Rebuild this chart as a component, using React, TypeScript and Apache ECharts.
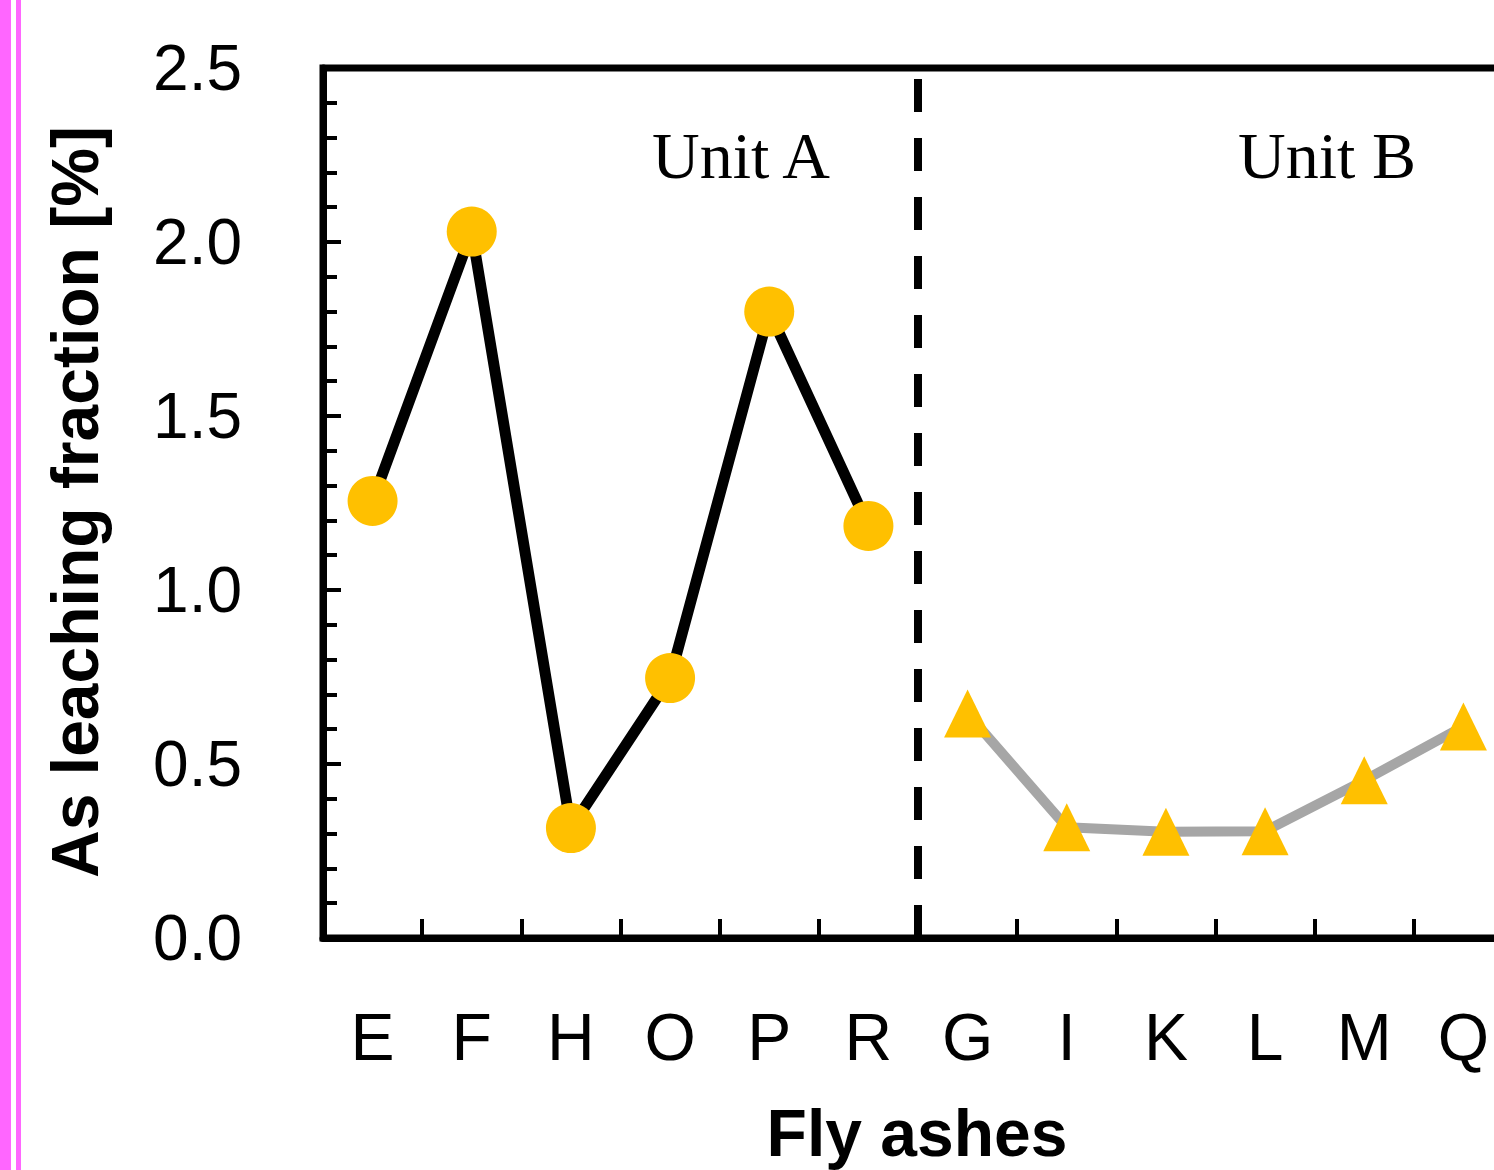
import React, { useEffect, useRef } from "react";
import * as echarts from "echarts";

const categories = ["E", "F", "H", "O", "P", "R", "G", "I", "K", "L", "M", "Q"];
const unitAValues = [1.256, 2.03, 0.316, 0.747, 1.8, 1.184, null, null, null, null, null, null];
const unitBValues = [null, null, null, null, null, null, 0.645, 0.318, 0.305, 0.307, 0.453, 0.608];
const yTickValues = [0, 0.5, 1.0, 1.5, 2.0, 2.5];
const dividerPosition = [6];
const unitLabels = ["Unit A", "Unit B"];

const SANS = "'Liberation Sans', Arial, Helvetica, sans-serif";
const SERIF = "'Liberation Serif', 'Times New Roman', serif";

export default function App() {
  const ref = useRef<HTMLDivElement>(null);
  useEffect(() => {
    document.body.style.margin = "0";
    document.body.style.overflow = "hidden";
    document.documentElement.style.overflow = "hidden";
    const chart = echarts.init(ref.current!, undefined, { renderer: "svg" });
    const gridLeft = 323;
    const gridTop = 68;
    const gridWidth = 1190;
    const gridHeight = 870;
    chart.setOption({
      animation: false,
      backgroundColor: "#ffffff",
      grid: {
        left: gridLeft,
        top: gridTop,
        width: gridWidth,
        height: gridHeight,
        show: true,
        borderColor: "#000",
        borderWidth: 7,
      },
      xAxis: [
        {
          type: "category",
          data: categories,
          boundaryGap: true,
          axisLine: { show: true, lineStyle: { color: "#000", width: 7 } },
          axisTick: { show: true, inside: true, length: 19, lineStyle: { color: "#000", width: 4 } },
          axisLabel: { color: "#000", fontSize: 66, fontFamily: SANS, margin: 66 },
          splitLine: { show: false },
        },
        {
          type: "value",
          min: 0,
          max: 12,
          show: false,
        },
      ],
      yAxis: {
        type: "value",
        min: 0,
        max: 2.5,
        interval: 0.5,
        axisLine: { show: true, lineStyle: { color: "#000", width: 7 } },
        axisTick: { show: true, inside: true, length: 18, lineStyle: { color: "#000", width: 4 } },
        minorTick: { show: true, splitNumber: 5, length: 14, lineStyle: { color: "#000", width: 4 } },
        axisLabel: {
          color: "#000",
          fontSize: 64,
          fontFamily: SANS,
          margin: 81,
          formatter: (v: number) => (yTickValues.includes(v) ? v.toFixed(1) : ""),
        },
        splitLine: { show: false },
      },
      series: [
        {
          type: "line",
          data: unitAValues,
          connectNulls: false,
          symbol: "circle",
          symbolSize: 50,
          lineStyle: { color: "#000", width: 11 },
          itemStyle: { color: "#ffc000" },
          z: 3,
        },
        {
          type: "line",
          data: unitBValues,
          connectNulls: false,
          symbol: "triangle",
          symbolSize: [47, 48],
          lineStyle: { color: "#a6a6a6", width: 10 },
          itemStyle: { color: "#ffc000" },
          z: 3,
        },
        {
          type: "line",
          xAxisIndex: 1,
          data: [],
          markLine: {
            silent: true,
            symbol: ["none", "none"],
            label: { show: false },
            lineStyle: { color: "#000", width: 8, type: [33, 26] },
            data: dividerPosition.map((v) => ({ xAxis: v })),
          },
        },
      ],
      graphic: [
        { type: "rect", shape: { x: 0, y: 0, width: 11, height: 1170 }, style: { fill: "#ff66ff" } },
        { type: "rect", shape: { x: 16, y: 0, width: 5, height: 1170 }, style: { fill: "#ff66ff" } },
        {
          type: "text",
          x: 741,
          y: 155,
          style: { text: unitLabels[0], font: `66px ${SERIF}`, fill: "#000", textAlign: "center", textVerticalAlign: "middle" },
        },
        {
          type: "text",
          x: 1327,
          y: 155,
          style: { text: unitLabels[1], font: `66px ${SERIF}`, fill: "#000", textAlign: "center", textVerticalAlign: "middle" },
        },
        {
          type: "text",
          x: 75,
          y: 502,
          rotation: Math.PI / 2,
          style: {
            text: "As leaching fraction [%]",
            font: `bold 66px ${SANS}`,
            fill: "#000",
            textAlign: "center",
            textVerticalAlign: "middle",
          },
        },
        {
          type: "text",
          x: 917,
          y: 1133,
          style: { text: "Fly ashes", font: `bold 66px ${SANS}`, fill: "#000", textAlign: "center", textVerticalAlign: "middle" },
        },
      ],
    });
    return () => chart.dispose();
  }, []);
  return <div ref={ref} style={{ width: 1540, height: 1170 }} />;
}
